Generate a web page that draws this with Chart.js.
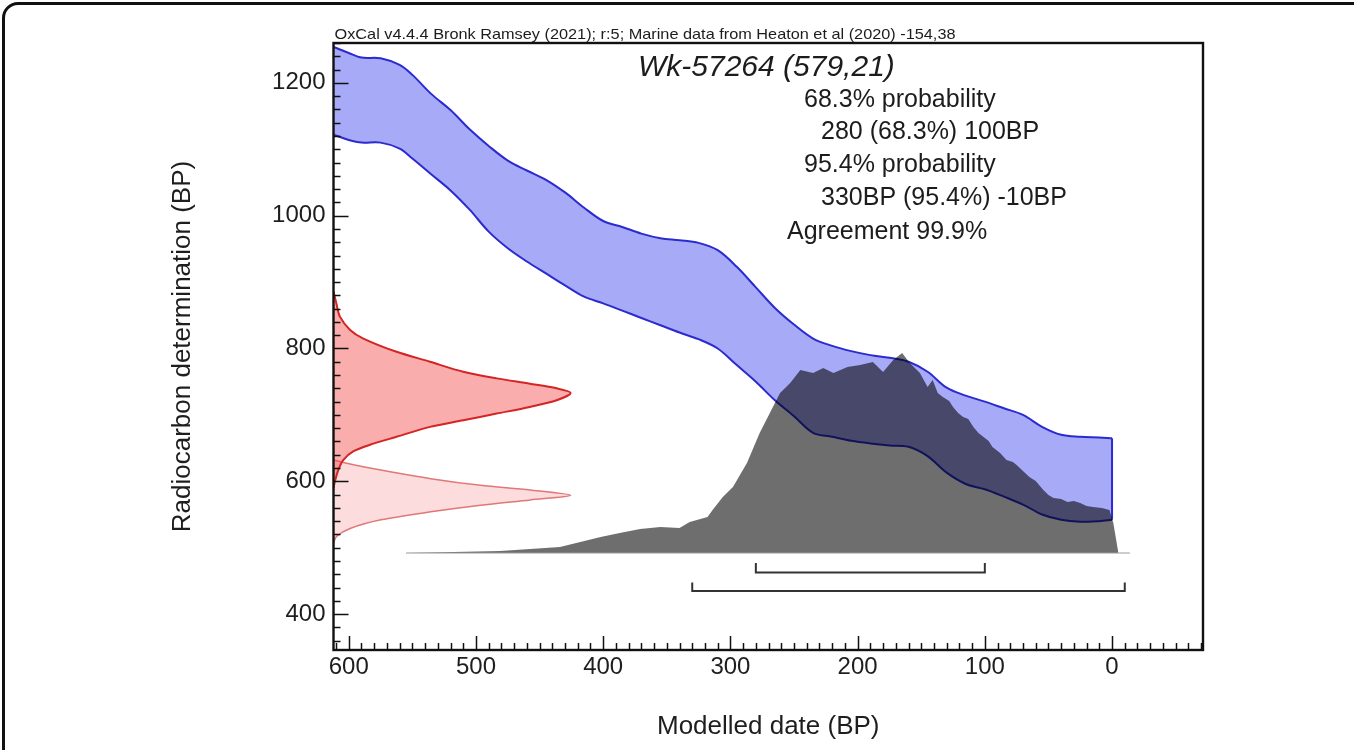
<!DOCTYPE html>
<html>
<head>
<meta charset="utf-8">
<title>Wk-57264</title>
<script src="https://cdn.jsdelivr.net/npm/chart.js@4.4.1/dist/chart.umd.min.js"></script>
<style>
  html, body { margin: 0; padding: 0; background: #fff; overflow: hidden; }
  #wrap { position: relative; width: 1354px; height: 750px; }
  #frame {
    position: absolute; left: 2px; top: 2px; width: 1400px; height: 800px;
    border: 3px solid #111; border-radius: 16px; pointer-events: none;
  }
</style>
</head>
<body>
<div id="wrap">
  <canvas id="chart"></canvas>
  <div id="frame"></div>
</div>
<script>
// marine calibration curve, upper / lower envelope (BP)
const calDates = [612, 600, 590, 575, 560, 550, 535, 520, 505, 490, 475, 460, 445, 430, 415, 400, 385, 370, 355, 340, 325, 310, 295, 280, 265, 250, 235, 220, 205, 190, 175, 160, 145, 130, 115, 100, 85, 70, 55, 40, 25, 10, 0];
const calUpper = [1254, 1245, 1238, 1237, 1227, 1212, 1183, 1159, 1130, 1105, 1083, 1068, 1054, 1035, 1012, 992, 983, 973, 966, 963, 959, 948, 923, 892, 861, 836, 815, 804, 796, 790, 786, 780, 765, 741, 729, 720, 710, 700, 682, 670, 667, 666, 665];
const calLower = [1122, 1114, 1110, 1110, 1101, 1086, 1062, 1038, 1009, 976, 951, 931, 913, 895, 878, 868, 857, 846, 835, 824, 814, 800, 775, 750, 722, 698, 673, 667, 661, 657, 654, 652, 638, 613, 596, 588, 577, 565, 550, 542, 539, 540, 542];

// measured determination 579 +/- 21 (relative probability)
const measAge = [632, 626, 617, 604, 594, 587, 579, 572, 564, 554, 542, 529, 517, 507];
const measProb = [0, 0.07, 0.2, 0.41, 0.62, 0.83, 1.0, 0.83, 0.62, 0.41, 0.2, 0.07, 0.013, 0];

// determination after reservoir offset
const adjAge = [886, 868, 848, 828, 815, 795, 780, 765, 755, 747, 740, 733, 722, 712, 702, 692, 682, 667, 655, 645, 632, 617, 600, 590];
const adjProb = [0, 0.012, 0.027, 0.07, 0.126, 0.266, 0.407, 0.547, 0.688, 0.828, 0.941, 1.0, 0.941, 0.828, 0.688, 0.547, 0.407, 0.266, 0.154, 0.083, 0.041, 0.02, 0.006, 0];

// modelled (posterior) date distribution
const postDates = [554, 481, 434, 402, 387, 371, 355, 340, 332, 318, 314, 306, 298, 287, 277, 269, 261, 253, 245, 235, 227, 219, 208, 198, 188, 180, 172, 165, 159, 151, 145, 141, 137, 133, 128, 125, 121, 117, 113, 109, 105, 101, 97, 94, 88, 83, 78, 75, 70, 65, 60, 54, 50, 46, 40, 35, 30, 25, 20, 15, 8, 2, -1, -5];
const postProb = [0, 0.01, 0.03, 0.08, 0.1, 0.12, 0.13, 0.125, 0.155, 0.18, 0.215, 0.28, 0.33, 0.45, 0.6, 0.7, 0.8, 0.85, 0.915, 0.9, 0.925, 0.9, 0.93, 0.94, 0.955, 0.905, 0.965, 1.0, 0.95, 0.9, 0.83, 0.865, 0.8, 0.78, 0.76, 0.73, 0.7, 0.68, 0.67, 0.63, 0.6, 0.58, 0.56, 0.53, 0.5, 0.465, 0.455, 0.44, 0.41, 0.38, 0.36, 0.315, 0.29, 0.275, 0.27, 0.255, 0.26, 0.25, 0.235, 0.23, 0.225, 0.215, 0.15, 0];
const postSpan = [555, -14];

// highest posterior density ranges
const hpd68 = [280, 100];
const hpd95 = [330, -10];

const dateTicks = [600, 500, 400, 300, 200, 100, 0];
const ageTicks = [400, 600, 800, 1000, 1200];

const sampleLabel = 'Wk-57264 (579,21)';
const summaryLines = ['68.3% probability', '280 (68.3%) 100BP', '95.4% probability', '330BP (95.4%) -10BP', 'Agreement 99.9%'];
const creditLine = 'OxCal v4.4.4 Bronk Ramsey (2021); r:5; Marine data from Heaton et al (2020) -154,38';

const FONT = "'Liberation Sans', Arial, Helvetica, sans-serif";
Chart.defaults.font.family = FONT;
Chart.defaults.color = '#1e1e1e';

const pts = (xs, ys) => xs.map((v, i) => ({ x: v, y: ys[i] }));
const bracket = (r, lo, hi) => [
  { x: r[0], y: hi }, { x: r[0], y: lo }, { x: r[1], y: lo }, { x: r[1], y: hi }
];
const last = calDates.length - 1;

const base = { showLine: true, pointRadius: 0, pointHoverRadius: 0, tension: 0 };

const datasets = [
  Object.assign({}, base, {
    label: 'cal upper', data: pts(calDates, calUpper), order: 10, tension: 0.35,
    borderColor: '#2b2bd0', borderWidth: 2,
    backgroundColor: 'rgba(80, 85, 238, 0.5)', fill: '+1'
  }),
  Object.assign({}, base, {
    label: 'cal lower', data: pts(calDates, calLower), order: 9, tension: 0.35,
    borderColor: '#2b2bd0', borderWidth: 2, fill: false
  }),
  Object.assign({}, base, {
    label: 'cal end', order: 9,
    data: [{ x: calDates[last], y: calUpper[last] }, { x: calDates[last], y: calLower[last] }],
    borderColor: '#2b2bd0', borderWidth: 2, fill: false
  }),
  Object.assign({}, base, {
    label: 'measured', data: pts(measProb, measAge), xAxisID: 'xProb', order: 8, tension: 0.3,
    borderColor: '#e07878', borderWidth: 1.5,
    backgroundColor: 'rgba(240, 80, 80, 0.2)', fill: 'shape'
  }),
  Object.assign({}, base, {
    label: 'corrected', data: pts(adjProb, adjAge), xAxisID: 'xProb', order: 7, tension: 0.3,
    borderColor: '#d42424', borderWidth: 2,
    backgroundColor: 'rgba(240, 60, 60, 0.42)', fill: 'shape'
  }),
  Object.assign({}, base, {
    label: 'posterior', data: pts(postDates, postProb), yAxisID: 'yProb', order: 6,
    borderColor: 'rgba(0, 0, 0, 0)', borderWidth: 0,
    backgroundColor: 'rgba(0, 0, 0, 0.57)', fill: 'origin'
  }),
  Object.assign({}, base, {
    label: 'baseline', data: [{ x: postSpan[0], y: 0 }, { x: postSpan[1], y: 0 }], yAxisID: 'yProb', order: 5,
    borderColor: '#9a9a9a', borderWidth: 1, fill: false
  }),
  Object.assign({}, base, {
    label: '68.3%', data: bracket(hpd68, -0.098, -0.05), yAxisID: 'yProb', order: 4,
    borderColor: '#333', borderWidth: 2, fill: false
  }),
  Object.assign({}, base, {
    label: '95.4%', data: bracket(hpd95, -0.19, -0.148), yAxisID: 'yProb', order: 4,
    borderColor: '#333', borderWidth: 2, fill: false
  })
];

// frame, inward ticks and the text block
const oxcalDecor = {
  id: 'oxcalDecor',
  afterDatasetsDraw(chart) {
    const { ctx, chartArea: a, scales: { x, y } } = chart;
    ctx.save();
    ctx.strokeStyle = '#111';
    ctx.lineWidth = 1.5;
    ctx.beginPath();
    for (let v = Math.ceil(x.min / 10) * 10; v <= x.max; v += 10) {
      const px = Math.round(x.getPixelForValue(v)) + 0.5;
      const len = v % 100 === 0 ? 14 : 7;
      ctx.moveTo(px, a.bottom);
      ctx.lineTo(px, a.bottom - len);
    }
    for (let v = Math.ceil(y.min / 20) * 20; v <= y.max; v += 20) {
      const py = Math.round(y.getPixelForValue(v)) + 0.5;
      const len = v % 200 === 0 ? 15 : 7;
      ctx.moveTo(a.left, py);
      ctx.lineTo(a.left + len, py);
    }
    ctx.stroke();

    ctx.lineWidth = 2.4;
    ctx.strokeRect(a.left, a.top, a.right - a.left, a.bottom - a.top);

    ctx.fillStyle = '#1c1c1c';
    ctx.textBaseline = 'alphabetic';
    ctx.textAlign = 'left';
    // credit line stretched to the width it takes above the frame
    ctx.font = '14.5px ' + FONT;
    const w = ctx.measureText(creditLine).width;
    ctx.save();
    ctx.translate(a.left + 1, a.top - 4);
    ctx.scale(621 / w, 1);
    ctx.fillText(creditLine, 0, 0);
    ctx.restore();

    ctx.textBaseline = 'middle';
    ctx.font = 'italic 30px ' + FONT;
    ctx.fillText(sampleLabel, a.left + 304.5, a.top + 25);

    ctx.font = '25px ' + FONT;
    const dx = [470.5, 487.5, 470.5, 487.5, 453.5];
    const dy = [57, 89.5, 122, 155, 189];
    summaryLines.forEach((t, i) => ctx.fillText(t, a.left + dx[i], a.top + dy[i]));
    ctx.restore();
  }
};

new Chart(document.getElementById('chart'), {
  type: 'scatter',
  data: { datasets },
  plugins: [oxcalDecor],
  options: {
    responsive: true,
    maintainAspectRatio: false,
    animation: false,
    events: [],
    layout: { padding: { left: 160, top: 43, right: 151, bottom: 8 } },
    plugins: { legend: { display: false }, tooltip: { enabled: false } },
    scales: {
      x: {
        type: 'linear', position: 'bottom', reverse: true, min: -71.5, max: 612,
        afterFit: (s) => { s.height = 92; },
        afterBuildTicks: (s) => { s.ticks = dateTicks.map(v => ({ value: v })); },
        grid: { display: false, drawTicks: false },
        border: { display: false },
        ticks: { font: { size: 24 }, color: '#1e1e1e', padding: 3, maxRotation: 0, autoSkip: false, callback: (v) => String(v) },
        title: { display: true, text: 'Modelled date (BP)', font: { size: 26 }, color: '#1e1e1e', padding: { top: 0, bottom: 0 } }
      },
      y: {
        type: 'linear', position: 'left', min: 346, max: 1260,
        afterFit: (s) => { s.width = 173.5; },
        afterBuildTicks: (s) => { s.ticks = ageTicks.map(v => ({ value: v })); },
        grid: { display: false, drawTicks: false },
        border: { display: false },
        ticks: { font: { size: 24 }, color: '#1e1e1e', padding: 8, autoSkip: false, callback: (v) => String(v) },
        title: { display: true, text: 'Radiocarbon determination (BP)', font: { size: 26 }, color: '#1e1e1e', padding: { top: 7, bottom: 0 } }
      },
      xProb: { type: 'linear', display: false, min: 0, max: 3.666 },
      yProb: { type: 'linear', display: false, min: -0.485, max: 2.55 }
    }
  }
});
</script>
</body>
</html>
